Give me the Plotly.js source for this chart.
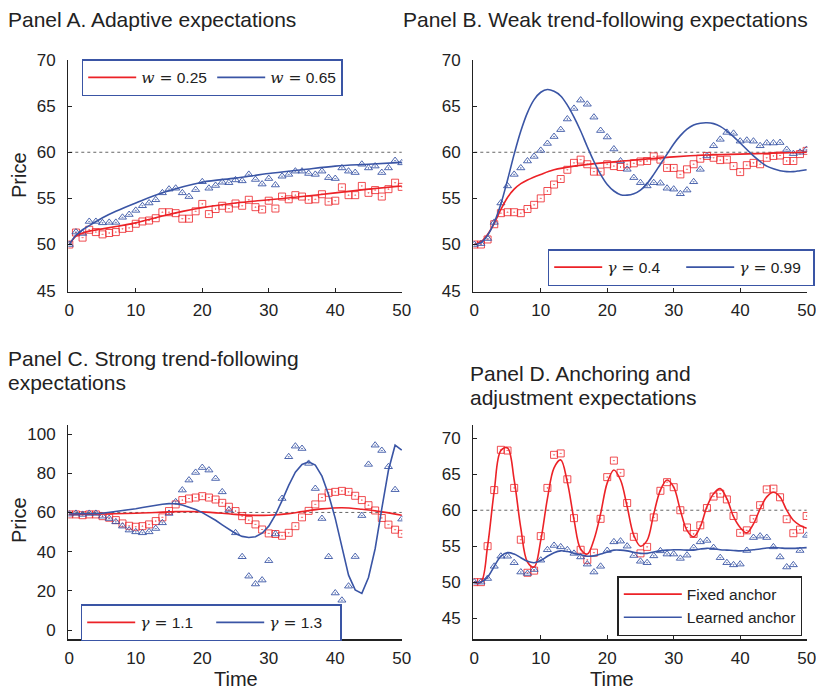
<!DOCTYPE html>
<html>
<head>
<meta charset="utf-8">
<script src="https://cdn.plot.ly/plotly-3.0.1.min.js"></script>
<style>html,body{margin:0;padding:0;background:#fff;}#chart{width:816px;height:689px;}</style>
</head>
<body>
<div id="chart"></div>
<script>
// ---------- data ----------
const time = [0,1,2,3,4,5,6,7,8,9,10,11,12,13,14,15,16,17,18,19,20,21,22,23,24,25,26,27,28,29,30,31,32,33,34,35,36,37,38,39,40,41,42,43,44,45,46,47,48,49,50];

// Panel A: adaptive expectations
const aSquaresW025 = [50.0,51.3,50.75,51.6,51.35,51.1,51.25,51.35,51.7,51.8,52.25,52.5,52.6,52.85,53.5,53.5,53.4,52.8,52.8,53.6,54.4,53.3,53.85,54.2,53.9,54.45,54.2,54.85,54.05,53.8,54.75,53.9,55.2,54.9,55.35,55.2,54.85,54.9,55.45,54.65,54.75,56.2,55.35,55.35,56.35,55.6,55.9,55.2,56.0,56.7,56.25];
const aTrianglesW065 = [50.0,51.35,51.2,52.5,52.5,52.35,52.4,52.4,52.95,53.25,53.7,54.2,54.5,54.85,55.6,56.0,56.1,55.6,55.2,55.95,56.8,56.1,56.4,56.75,56.7,57.0,56.9,57.6,57.05,56.55,57.15,56.45,57.4,57.6,57.95,57.95,57.7,57.6,57.95,57.25,57.15,58.3,57.95,57.8,58.7,58.3,58.5,57.8,58.3,59.1,58.85];
const aLineTime = [0,1,2,3,5,7,10,14,20,25,30,35,40,45,50];
const aLineW025 = [50,50.9,51.25,51.45,51.7,51.95,52.35,53.1,54.0,54.5,54.85,55.2,55.6,56.0,56.35];
const aLineW065 = [50,51.0,51.6,52.05,52.9,53.6,54.5,55.6,56.75,57.2,57.7,58.1,58.5,58.7,58.9];

// Panel B: weak trend-following
const bSquaresG04 = [50,50,50.55,52.2,53.4,53.5,53.5,53.4,53.85,54.3,55.0,55.8,56.5,57.1,58.1,58.85,59.2,58.7,57.9,57.9,58.7,58.5,58.4,58.7,58.8,59.0,59.05,59.55,59.2,58.3,58.3,57.6,58.15,58.7,59.3,59.6,59.4,59.15,59.2,58.5,57.85,58.6,58.85,58.7,59.4,59.6,59.65,59.05,59.05,59.8,60.15];
const bTrianglesG099 = [50,50.1,50.65,52.4,54.5,56.35,57.6,58.3,59.05,59.55,60.2,60.95,61.7,62.45,63.6,64.75,65.65,65.2,63.8,62.35,61.65,60.35,59.05,58.15,57.25,56.7,56.35,56.7,56.65,56.1,56.0,55.5,55.9,56.8,58.15,59.6,60.7,61.4,62.15,62.05,61.2,61.3,61.2,60.7,61.0,61.0,61.05,60.3,59.85,60.0,60.3];
const bLineTime = [0,1,2,3,4,5,6,7,8,10,12,15,20,25,30,35,40,45,50];
const bLineG04 = [50,50.3,51.1,52.3,53.8,55.1,56.0,56.6,57.0,57.6,58.1,58.5,58.9,59.2,59.5,59.7,59.8,59.9,60.0];
const bLineG099 = [50,50.2,51.0,52.4,54.4,57.0,59.8,62.3,64.3,65.7,66.5,66.8,66.6,66.1,65.1,63.8,62.3,60.6,59.0,57.6,56.5,55.8,55.4,55.35,55.5,55.9,56.6,57.6,58.7,59.8,60.9,61.8,62.5,62.95,63.15,63.2,63.1,62.8,62.3,61.7,61.0,60.3,59.6,59.0,58.5,58.2,58.0,57.9,57.9,58.0,58.1];

// Panel C: strong trend-following
const cSquaresG11 = [59.0,59.0,58.6,59.0,59.0,58.1,57.3,56.1,54.4,53.2,52.7,53.0,53.9,55.6,57.5,60.7,64.1,66.3,67.1,67.6,68.3,67.6,66.6,64.9,62.9,60.7,58.1,56.1,53.9,51.3,49.3,49.0,48.1,49.6,53.0,57.5,60.8,64.1,67.6,70.0,70.5,71.0,70.5,68.5,66.3,63.7,61.0,57.2,53.8,51.2,49.1];
const cTrianglesG13 = [59.15,59.5,59.0,59.5,59.5,58.1,56.9,55.2,53.0,51.0,50.1,49.6,50.1,51.8,54.7,59.5,65.4,71.4,76.5,80.4,82.9,81.6,77.3,70.5,61.2,49.6,37.4,27.5,23.5,25.5,35.4,49.0,67.1,88.4,93.8,92.6,85.0,72.2,56.9,37.4,18.9,15.2,22.4,37.5,58.4,84.5,94.3,91.6,83.3,71.6,56.6];
const cLineTime = [0,5,10,13,16,18,20,23,25,28,30,33,35,38,41,44,47,50];
const cLineG11 = [59.0,59.2,59.6,60.0,60.4,60.5,60.3,59.6,59.0,58.5,58.6,59.4,60.4,61.8,62.4,61.6,60.3,58.6];
const cLineG13 = [59.2,59.2,59.2,59.3,59.4,59.6,60.0,60.4,60.9,61.4,61.9,62.5,63.1,63.7,64.2,64.5,64.4,63.8,62.8,61.5,59.9,58.1,56.0,53.7,51.4,49.3,47.8,47.2,47.6,49.4,53.0,58.8,66.0,73.8,80.5,84.5,85.8,84.2,78.5,69.0,57.0,42.5,28.0,20.5,18.7,26.8,41.5,62.0,81.5,94.3,91.8];

// Panel D: anchoring and adjustment
const dSquaresFixed = [50.0,50.0,55.0,62.8,68.4,68.3,63.1,55.9,51.3,51.6,56.4,63.1,67.7,67.9,64.3,58.9,54.5,53.1,54.1,58.8,64.6,66.9,65.2,61.0,56.3,54.0,54.9,59.0,62.7,63.9,63.2,60.0,57.6,56.7,57.9,60.3,61.9,62.3,61.5,59.2,56.85,57.2,58.8,60.7,62.9,63.0,61.8,58.75,56.8,57.3,59.2];
const dTrianglesLearned = [50,50,50.5,52.2,53.6,53.6,52.7,51.4,51.2,51.75,53.05,54.5,55.1,54.9,54.5,54.0,53.5,52.5,51.4,52.2,54.4,55.6,55.7,55.0,53.7,52.9,52.7,53.65,54.35,53.9,53.9,53.3,53.75,54.8,55.6,55.8,54.8,53.4,52.7,52.4,52.5,54.4,56.2,56.4,56.2,54.9,53.5,52.1,52.4,54.4,56.5];
const dLineFixed = [50,50.0,55.0,62.7,68.3,68.65,64.2,57.5,52.8,52.1,55.8,61.6,65.9,67.0,63.9,58.7,54.6,53.9,55.9,59.5,63.8,65.6,64.2,60.5,56.5,55.0,55.8,59.5,62.8,64.2,63.2,60.0,57.2,56.3,57.7,60.5,62.3,63.0,61.6,59.1,57.6,56.85,58.1,60.2,61.85,62.5,61.85,60.0,58.6,57.9,57.5];
const dLineLearned = [50,50.0,50.7,52.2,53.6,54.1,53.9,53.4,52.9,52.7,53.0,53.6,54.1,54.35,54.25,54.0,53.8,53.6,53.65,53.9,54.2,54.45,54.45,54.35,54.15,54.0,54.0,54.2,54.35,54.45,54.5,54.5,54.45,54.45,54.6,54.7,54.65,54.5,54.45,54.4,54.35,54.4,54.5,54.6,54.75,54.8,54.75,54.7,54.7,54.75,54.8];

const xTicks = [0,10,20,30,40,50];
const fundamentalValue = 60;

// ---------- styling ----------
const RED = '#ec2227', BLUE = '#3a55a5';
const RED_MK = 'rgba(236,34,39,0.8)', BLUE_MK = 'rgba(58,85,165,0.9)';
const FONT = 'Liberation Sans, Arial, Helvetica, sans-serif';
const TXT = '#222';
const W = 816, H = 689;
const px = v => v / W, py = v => 1 - v / H;

function sq(x, y, xa, ya) {
  return {x, y, xaxis: xa, yaxis: ya, type: 'scatter', mode: 'markers', showlegend: false, hoverinfo: 'skip',
    marker: {symbol: 'square-open-dot', size: 7, color: RED_MK, line: {width: 1, color: RED_MK}}};
}
function tri(x, y, xa, ya) {
  return {x, y, xaxis: xa, yaxis: ya, type: 'scatter', mode: 'markers', showlegend: false, hoverinfo: 'skip',
    marker: {symbol: 'triangle-up-open-dot', size: 7, color: BLUE_MK, line: {width: 1, color: BLUE_MK}}};
}
function ln(x, y, xa, ya, color, name, legend, smooth) {
  return {x, y, xaxis: xa, yaxis: ya, type: 'scatter', mode: 'lines', name, legend,
    line: {color, width: 1.6, shape: smooth ? 'spline' : 'linear'}};
}

const serif = s => '<span style="font-family:\'DejaVu Serif\', serif"><i>' + s + '</i> =</span>';

const traces = [
  // A
  sq(time, aSquaresW025, 'x', 'y'), tri(time, aTrianglesW065, 'x', 'y'),
  ln(aLineTime, aLineW025, 'x', 'y', RED, serif('w') + ' 0.25', 'legend', true),
  ln(aLineTime, aLineW065, 'x', 'y', BLUE, serif('w') + ' 0.65', 'legend', true),
  // B
  sq(time, bSquaresG04, 'x2', 'y2'), tri(time, bTrianglesG099, 'x2', 'y2'),
  ln(bLineTime, bLineG04, 'x2', 'y2', RED, serif('γ') + ' 0.4', 'legend2', true),
  ln(time, bLineG099, 'x2', 'y2', BLUE, serif('γ') + ' 0.99', 'legend2', true),
  // C
  sq(time, cSquaresG11, 'x3', 'y3'), tri(time, cTrianglesG13, 'x3', 'y3'),
  ln(cLineTime, cLineG11, 'x3', 'y3', RED, serif('γ') + ' 1.1', 'legend3', true),
  ln(time, cLineG13, 'x3', 'y3', BLUE, serif('γ') + ' 1.3', 'legend3', false),
  // D
  sq(time, dSquaresFixed, 'x4', 'y4'), tri(time, dTrianglesLearned, 'x4', 'y4'),
  ln(time, dLineFixed, 'x4', 'y4', RED, 'Fixed anchor', 'legend4', true),
  ln(time, dLineLearned, 'x4', 'y4', BLUE, 'Learned anchor', 'legend4', true)
];

function xax(domain, anchor) {
  return {domain, anchor, range: [-0.15, 50.1], tickvals: xTicks, ticks: 'inside', ticklen: 4, tickwidth: 1,
    tickcolor: TXT, showline: true, linecolor: TXT, linewidth: 1.3, showgrid: false, zeroline: false,
    tickfont: {family: FONT, size: 17, color: TXT}, ticklabelstandoff: 3, ticklabeloverflow: 'allow',
    fixedrange: true, automargin: false};
}
function yax(domain, anchor, range, tickvals) {
  return {domain, anchor, range, tickvals, ticks: 'inside', ticklen: 4, tickwidth: 1,
    tickcolor: TXT, showline: true, linecolor: TXT, linewidth: 1.3, showgrid: false, zeroline: false,
    tickfont: {family: FONT, size: 17, color: TXT}, ticklabelstandoff: 8, ticklabeloverflow: 'allow',
    fixedrange: true, automargin: false};
}

const xLeft = [px(68.3), px(402.4)], xRight = [px(473.3), px(807.3)];
const yTop = [py(291.6), py(59.5)], yBot = [py(639.3), py(425)];

function legendCfg(x, y, border, horiz, ew, iw) {
  return {x, y, xanchor: 'left', yanchor: 'top', orientation: horiz ? 'h' : 'v',
    bordercolor: border, borderwidth: 1.5, bgcolor: '#fff',
    font: {family: FONT, size: 15.5, color: TXT}, traceorder: 'normal',
    itemwidth: iw || 48, entrywidth: ew, entrywidthmode: 'pixels', tracegroupgap: 0};
}

const shapes = [['x','y'],['x2','y2'],['x3','y3'],['x4','y4']].map(([xa, ya]) => ({
  type: 'line', xref: xa, yref: ya, x0: 0, x1: 50, y0: fundamentalValue, y1: fundamentalValue,
  layer: 'below', line: {color: '#666', width: 1, dash: 'dot'}
}));

function txt(text, x, y, size, extra) {
  return Object.assign({text, x: px(x), y: py(y), xref: 'paper', yref: 'paper', showarrow: false,
    xanchor: 'left', yanchor: 'middle', font: {family: FONT, size, color: TXT}}, extra || {});
}

const annotations = [
  txt('Panel A. Adaptive expectations', 6, 20, 21),
  txt('Panel B. Weak trend-following expectations', 401, 20, 21),
  txt('Panel C. Strong trend-following', 6, 358, 21),
  txt('expectations', 6, 382, 21),
  txt('Panel D. Anchoring and', 468, 373, 21),
  txt('adjustment expectations', 468, 397, 21),
  txt('Price', 19, 175, 20, {xanchor: 'center', textangle: -90}),
  txt('Price', 19, 520, 20, {xanchor: 'center', textangle: -90}),
  txt('Time', 236, 679, 20, {xanchor: 'center'}),
  txt('Time', 612, 679, 20, {xanchor: 'center'})
];

const layout = {
  width: W, height: H, margin: {l: 0, r: 0, t: 0, b: 0, autoexpand: false},
  paper_bgcolor: '#fff', plot_bgcolor: 'rgba(0,0,0,0)',
  font: {family: FONT, color: TXT},
  xaxis: xax(xLeft, 'y'), yaxis: yax(yTop, 'x', [44.9, 70.05], [45,50,55,60,65,70]),
  xaxis2: xax(xRight, 'y2'), yaxis2: yax(yTop, 'x2', [44.9, 70.05], [45,50,55,60,65,70]),
  xaxis3: xax(xLeft, 'y3'), yaxis3: yax(yBot, 'x3', [-4.7, 104.6], [0,20,40,60,80,100]),
  xaxis4: xax(xRight, 'y4'), yaxis4: yax(yBot, 'x4', [42.05, 71.85], [45,50,55,60,65,70]),
  legend: legendCfg(px(81.7), py(59.3), BLUE, true, 66),
  legend2: legendCfg(px(547.7), py(249), BLUE, true, 69),
  legend3: legendCfg(px(80.7), py(604.3), BLUE, true, 66),
  legend4: legendCfg(px(617.3), py(576), '#222', false, undefined, 58),
  shapes, annotations
};

Plotly.newPlot('chart', traces, layout, {displayModeBar: false, staticPlot: true});
</script>
</body>
</html>
